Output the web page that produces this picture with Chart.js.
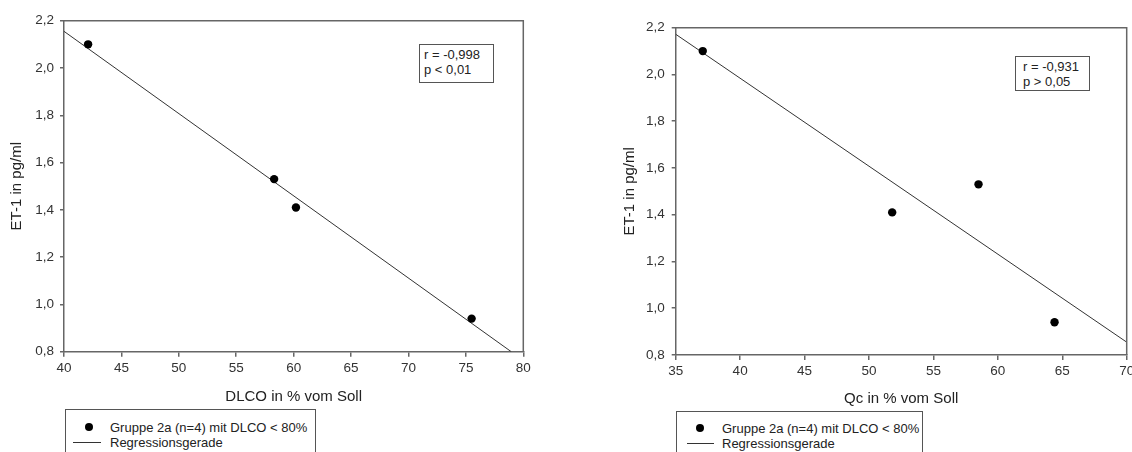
<!DOCTYPE html>
<html>
<head>
<meta charset="utf-8">
<script src="https://cdn.jsdelivr.net/npm/chart.js@4/dist/chart.umd.min.js"></script>
<style>
  html, body { margin: 0; padding: 0; background: #fff; width: 1132px; height: 452px; overflow: hidden; }
  canvas { position: absolute; top: 0; }
  .stat { position: absolute; box-sizing: border-box; border: 1px solid #555; background: #fff;
          font: 13px "Liberation Sans", Arial, sans-serif; color: #222; line-height: 15px; white-space: nowrap; }
  .legend { position: absolute; box-sizing: border-box; border: 1px solid #555; background: #fff; height: 70px;
            font: 13px "Liberation Sans", Arial, sans-serif; color: #222; }
  .legend .dot { position: absolute; width: 8px; height: 8px; border-radius: 50%; background: #000; }
  .legend .rule { position: absolute; height: 0; border-top: 1px solid #333; }
  .legend .txt { position: absolute; line-height: 15px; white-space: nowrap; }
</style>
</head>
<body>
<canvas id="chartDlco" width="566" height="452" style="left:0"></canvas>
<canvas id="chartQc" width="580" height="452" style="left:566px"></canvas>

<div class="stat" id="statDlco" style="left:419px;top:44px;width:75px;height:39px;padding:2px 0 0 4px"></div>
<div class="stat" id="statQc" style="left:1015px;top:56px;width:75px;height:35px;padding:2px 0 0 7px"></div>

<div class="legend" style="left:65px;top:409px;width:251px">
  <span class="dot" style="left:19px;top:13px"></span>
  <span class="txt" id="legPtsL" style="left:44px;top:10px"></span>
  <span class="rule" style="left:7px;top:32px;width:28px"></span>
  <span class="txt" id="legRegL" style="left:44px;top:25px"></span>
</div>
<div class="legend" style="left:676px;top:411px;width:247px">
  <span class="dot" style="left:19px;top:12px"></span>
  <span class="txt" id="legPtsR" style="left:45px;top:9px"></span>
  <span class="rule" style="left:10px;top:31px;width:27px"></span>
  <span class="txt" id="legRegR" style="left:45px;top:24px"></span>
</div>

<script>
// ET-1 concentrations (pg/ml) of the four patients of group 2a
const et1 = [2.10, 1.53, 1.41, 0.94];
// DLCO and Qc in % of the predicted value, same patient order
const dlco = [42.1, 58.3, 60.2, 75.5];
const qc = [37.1, 58.5, 51.8, 64.4];

// end points of the fitted regression lines [x, y]
const regDlco = [[40, 2.155], [78.95, 0.80]];
const regQc = [[35, 2.172], [70, 0.855]];

// axis ranges and tick steps
const yRange = [0.8, 2.2, 0.2];
const xRangeDlco = [40, 80, 5];
const xRangeQc = [35, 70, 5];

// labels
const yTitle = 'ET-1 in pg/ml';
const xTitleDlco = 'DLCO in % vom Soll';
const xTitleQc = 'Qc in % vom Soll';
const seriesLabel = 'Gruppe 2a (n=4) mit DLCO < 80%';
const regLabel = 'Regressionsgerade';
const statDlco = ['r = -0,998', 'p < 0,01'];
const statQc = ['r = -0,931', 'p > 0,05'];

const FONT = '"Liberation Sans", Arial, sans-serif';
const AXIS = '#666';

// closes the plot frame along its top and right edges
const framePlugin = {
  id: 'frame',
  afterDraw(chart) {
    const { ctx, chartArea: a } = chart;
    ctx.save();
    ctx.strokeStyle = AXIS;
    ctx.lineWidth = 1.5;
    ctx.beginPath();
    ctx.moveTo(a.left, a.top);
    ctx.lineTo(a.right, a.top);
    ctx.lineTo(a.right, a.bottom);
    ctx.stroke();
    ctx.restore();
  }
};

function makeChart(id, xs, reg, xRange, xTitle, box) {
  const pts = xs.map((x, i) => ({ x: x, y: et1[i] }));
  const line = reg.map(p => ({ x: p[0], y: p[1] }));
  return new Chart(document.getElementById(id), {
    type: 'scatter',
    data: {
      datasets: [
        { label: seriesLabel, data: pts, pointRadius: 4.2, pointHoverRadius: 4.2,
          backgroundColor: '#000', borderWidth: 0, showLine: false },
        { label: regLabel, data: line, showLine: true, pointRadius: 0,
          borderColor: '#333', borderWidth: 1, fill: false }
      ]
    },
    plugins: [framePlugin],
    options: {
      responsive: false,
      animation: false,
      devicePixelRatio: 1,
      layout: { padding: box.pad },
      plugins: { legend: { display: false }, tooltip: { enabled: false } },
      scales: {
        x: {
          type: 'linear', min: xRange[0], max: xRange[1],
          ticks: { stepSize: xRange[2], color: '#333', padding: 3,
                   font: { family: FONT, size: 13.5 },
                   callback: v => String(v) },
          grid: { drawOnChartArea: false, drawTicks: true, tickLength: 5, color: AXIS, lineWidth: 1.5 },
          border: { display: true, color: AXIS, width: 1.5 },
          title: { display: true, text: xTitle, color: '#222',
                   font: { family: FONT, size: 15 }, padding: { top: 0, bottom: box.xTitlePad } },
          afterFit: s => { s.height = box.xHeight; }
        },
        y: {
          type: 'linear', min: yRange[0], max: yRange[1],
          ticks: { stepSize: yRange[2], color: '#333', padding: box.yTickPad,
                   font: { family: FONT, size: 13.5 },
                   callback: v => v.toFixed(1).replace('.', ',') },
          grid: { drawOnChartArea: false, drawTicks: true, tickLength: 4, color: AXIS, lineWidth: 1.5 },
          border: { display: true, color: AXIS, width: 1.5 },
          title: { display: true, text: yTitle, color: '#222',
                   font: { family: FONT, size: 15 }, padding: { top: 0, bottom: 0 } },
          afterFit: s => { s.width = box.yWidth; }
        }
      }
    }
  });
}

makeChart('chartDlco', dlco, regDlco, xRangeDlco, xTitleDlco, {
  pad: { left: 8, top: 20.7, right: 42.7, bottom: 40 },
  yWidth: 56, xHeight: 60.3, xTitlePad: 6, yTickPad: 6
});
makeChart('chartQc', qc, regQc, xRangeQc, xTitleQc, {
  pad: { left: 55, top: 27.7, right: 19.3, bottom: 40 },
  yWidth: 54.7, xHeight: 57, xTitlePad: 4.5, yTickPad: 7
});

// statistics boxes and legends
document.getElementById('statDlco').innerHTML = statDlco.join('<br>');
document.getElementById('statQc').innerHTML = statQc.join('<br>');
for (const s of ['L', 'R']) {
  document.getElementById('legPts' + s).textContent = seriesLabel;
  document.getElementById('legReg' + s).textContent = regLabel;
}
</script>
</body>
</html>
